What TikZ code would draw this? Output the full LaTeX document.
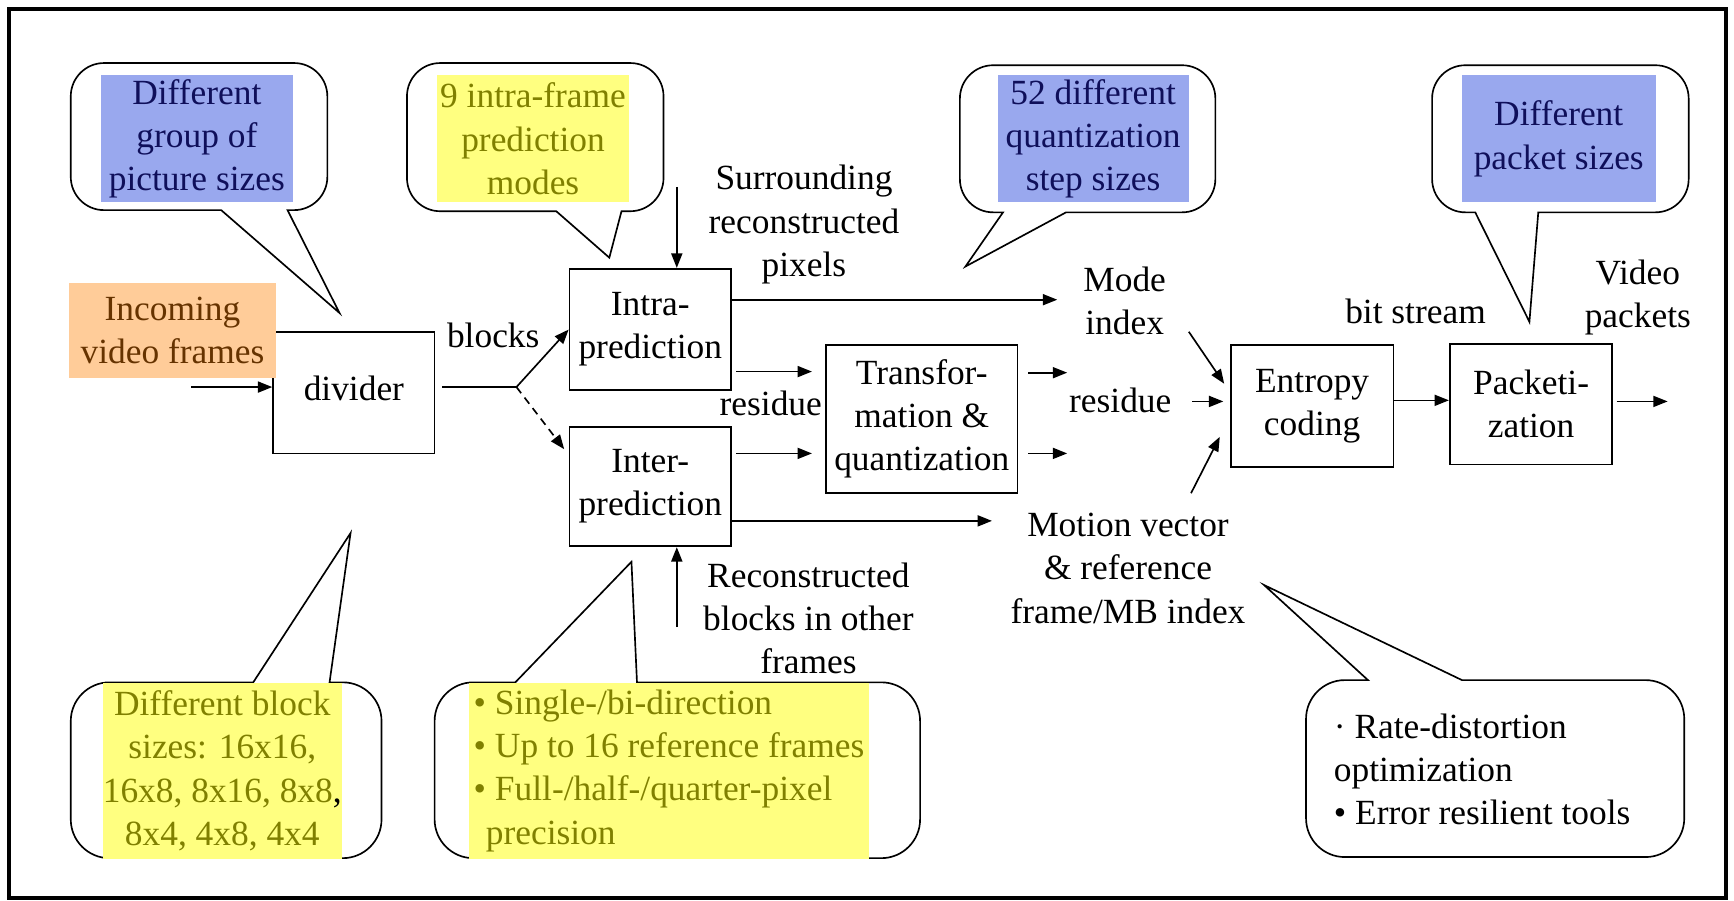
\documentclass[tikz,border=0pt]{standalone}
\usepackage{fontspec}
\setmainfont{Liberation Serif}
\usetikzlibrary{arrows.meta,calc}
\definecolor{hlblue}{RGB}{153,168,238}
\definecolor{navytext}{RGB}{15,15,90}
\definecolor{hlyellow}{RGB}{255,255,128}
\definecolor{olivetext}{RGB}{128,128,0}
\definecolor{hlorange}{RGB}{255,204,153}
\definecolor{browntext}{RGB}{102,51,0}
% callout with tail at the bottom: x1 y1 x2 y2 r tailL tailR apexX apexY
\newcommand{\calloutDn}[9]{%
 \draw[callout] (#6,#4) -- (#1+#5,#4) .. controls (#1+0.45*#5,#4) and (#1,#4-0.45*#5) .. (#1,#4-#5)
 -- (#1,#2+#5) .. controls (#1,#2+0.45*#5) and (#1+0.45*#5,#2) .. (#1+#5,#2)
 -- (#3-#5,#2) .. controls (#3-0.45*#5,#2) and (#3,#2+0.45*#5) .. (#3,#2+#5)
 -- (#3,#4-#5) .. controls (#3,#4-0.45*#5) and (#3-0.45*#5,#4) .. (#3-#5,#4)
 -- (#7,#4) -- (#8,#9) -- cycle;}
% callout with tail at the top
\newcommand{\calloutUp}[9]{%
 \draw[callout] (#7,#2) -- (#3-#5,#2) .. controls (#3-0.45*#5,#2) and (#3,#2+0.45*#5) .. (#3,#2+#5)
 -- (#3,#4-#5) .. controls (#3,#4-0.45*#5) and (#3-0.45*#5,#4) .. (#3-#5,#4)
 -- (#1+#5,#4) .. controls (#1+0.45*#5,#4) and (#1,#4-0.45*#5) .. (#1,#4-#5)
 -- (#1,#2+#5) .. controls (#1,#2+0.45*#5) and (#1+0.45*#5,#2) .. (#1+#5,#2)
 -- (#6,#2) -- (#8,#9) -- cycle;}
\begin{document}
\begin{tikzpicture}[x=1pt,y=-1pt,
  font=\fontsize{32}{39}\selectfont,
  callout/.style={draw, line width=1.5pt, fill=white, line join=miter},
  hl/.style={inner sep=0pt, align=center},
  lbl/.style={inner sep=0pt, align=center},
  stagebox/.style={draw, line width=1.6pt, inner sep=0pt, align=center},
  arr/.style={-{Triangle[length=13pt,width=10pt]}, line width=1.5pt},
  plainline/.style={line width=1.5pt},
  dashline/.style={dash pattern=on 7pt off 5pt}]
\useasboundingbox (0,0) rectangle (1568,814);
\draw[line width=3.5pt] (8,8) rectangle (1561,812);

% callouts
\calloutDn{64}{57}{296}{190}{30}{200}{260}{307}{283}
\calloutDn{368}{57}{600}{191}{30}{503}{562}{551}{233}
\calloutDn{868}{59}{1099}{192}{30}{907}{964}{873}{241}
\calloutDn{1295}{59}{1527}{192}{30}{1334}{1391}{1383}{291}
\calloutUp{64}{617}{345}{776}{35}{229}{298}{317}{482}
\calloutUp{393}{617}{832}{776}{35}{466}{576}{571}{508}
\calloutUp{1181}{615}{1523}{775}{35}{1237}{1322}{1143}{529}

% highlighted callout texts
\node[hl, fill=hlblue, text=navytext, minimum width=174pt, minimum height=115pt] (picsizes) at (178,125.5) {Different\\group of\\picture sizes};
\node[hl, fill=hlyellow, text=olivetext, minimum width=174pt, minimum height=115pt] (intramodes) at (482,125.5) {9 intra-frame\\prediction\\modes};
\node[hl, fill=hlblue, text=navytext, minimum width=173pt, minimum height=115pt] (qsteps) at (988.5,125.5) {52 different\\quantization\\step sizes};
\node[hl, fill=hlblue, text=navytext, minimum width=175pt, minimum height=115pt] (pktsizes) at (1409.5,125.5) {Different\\packet sizes};
\node[hl, fill=hlyellow, text=olivetext, minimum width=216pt, minimum height=159pt] (blksizes) at (201,697) {Different block\\sizes: 16x16,\\16x8, 8x16, 8x8\textcolor{black}{,}\\8x4, 4x8, 4x4};
\node[hl, fill=hlyellow, text=olivetext, minimum width=362pt, minimum height=159pt, align=left] (internotes) at (605,697) {• Single-/bi-direction\\• Up to 16 reference frames\\• Full-/half-/quarter-pixel\\\hspace*{11pt}precision};
\node[lbl, align=left, anchor=west] (rdo) at (1206,696) {· Rate-distortion\\optimization\\• Error resilient tools};

% stage boxes
\node[stagebox, minimum width=146pt, minimum height=110pt, text depth=8pt] (divider) at (320,355) {divider};
\node[hl, fill=hlorange, text=browntext, minimum width=188pt, minimum height=86pt] (incoming) at (156,299) {Incoming\\video frames};
\node[stagebox, minimum width=146pt, minimum height=110pt] (intra) at (588,298) {Intra-\\prediction};
\node[stagebox, minimum width=146pt, minimum height=108pt] (inter) at (588,440) {Inter-\\prediction};
\node[stagebox, minimum width=173pt, minimum height=134pt] (transform) at (833.5,379) {Transfor-\\mation \&\\quantization};
\node[stagebox, minimum width=147pt, minimum height=110pt] (entropy) at (1186.5,367) {Entropy\\coding};
\node[stagebox, minimum width=147pt, minimum height=109pt] (packet) at (1384.5,365.5) {Packeti-\\zation};

% labels
\node[lbl] (blocks) at (446,303) {blocks};
\node[lbl] (surr) at (727,203) {Surrounding\\reconstructed\\pixels};
\node[lbl] (resL) at (697,365) {residue};
\node[lbl] (mode) at (1017,272) {Mode\\index};
\node[lbl] (resR) at (1013,362) {residue};
\node[lbl] (motion) at (1020,514) {Motion vector\\\& reference\\frame/MB index};
\node[lbl] (recon) at (731,559) {Reconstructed\\blocks in other\\frames};
\node[lbl] (bits) at (1280,282) {bit stream};
\node[lbl] (vid) at (1481,269) {Video\\packets};

% connectors
\coordinate (inS) at (173,350);
\draw[arr] (inS) -- (inS -| divider.west);
\coordinate (br) at (467,350);
\draw[plainline, shorten <=6pt] (br -| divider.east) -- (br);
\draw[arr] (br) -- (intra.west);
\draw[arr, dashline] (br) -- ($(inter.north west)+(-4,21)$);
\coordinate (surTop) at (612,169);
\draw[arr] (surTop) -- (surTop |- intra.north);
\coordinate (modeIn) at (956,271);
\draw[arr] (modeIn -| intra.east) -- (modeIn);
\coordinate (rowA) at (0,336);
\draw[arr, shorten <=4pt, shorten >=12pt] (rowA -| intra.east) -- (rowA -| transform.west);
\coordinate (rowB) at (0,410);
\draw[arr, shorten <=4pt, shorten >=12pt] (rowB -| inter.east) -- (rowB -| transform.west);
\coordinate (motionIn) at (897,471);
\draw[arr] (motionIn -| inter.east) -- (motionIn);
\coordinate (tqA) at (965,337);
\coordinate (tqB) at (965,410);
\draw[arr, shorten <=9pt] (tqA -| transform.east) -- (tqA);
\draw[arr, shorten <=9pt] (tqB -| transform.east) -- (tqB);
\coordinate (mStart) at (1075,300);
\coordinate (mEnd) at (1107,347);
\draw[arr] (mStart) -- (mEnd);
\coordinate (rIn) at (1078,363);
\draw[arr, shorten >=6pt] (rIn) -- (rIn -| entropy.west);
\coordinate (mvS) at (1077,446);
\coordinate (mvE) at (1103,395);
\draw[arr] (mvS) -- (mvE);
\coordinate (bsRow) at (0,362);
\draw[arr] (bsRow -| entropy.east) -- (bsRow -| packet.west);
\coordinate (outE) at (1508,363);
\draw[arr, shorten <=3pt] (outE -| packet.east) -- (outE);
\coordinate (recS) at (612,567);
\draw[arr] (recS) -- (recS |- inter.south);
\end{tikzpicture}
\end{document}
